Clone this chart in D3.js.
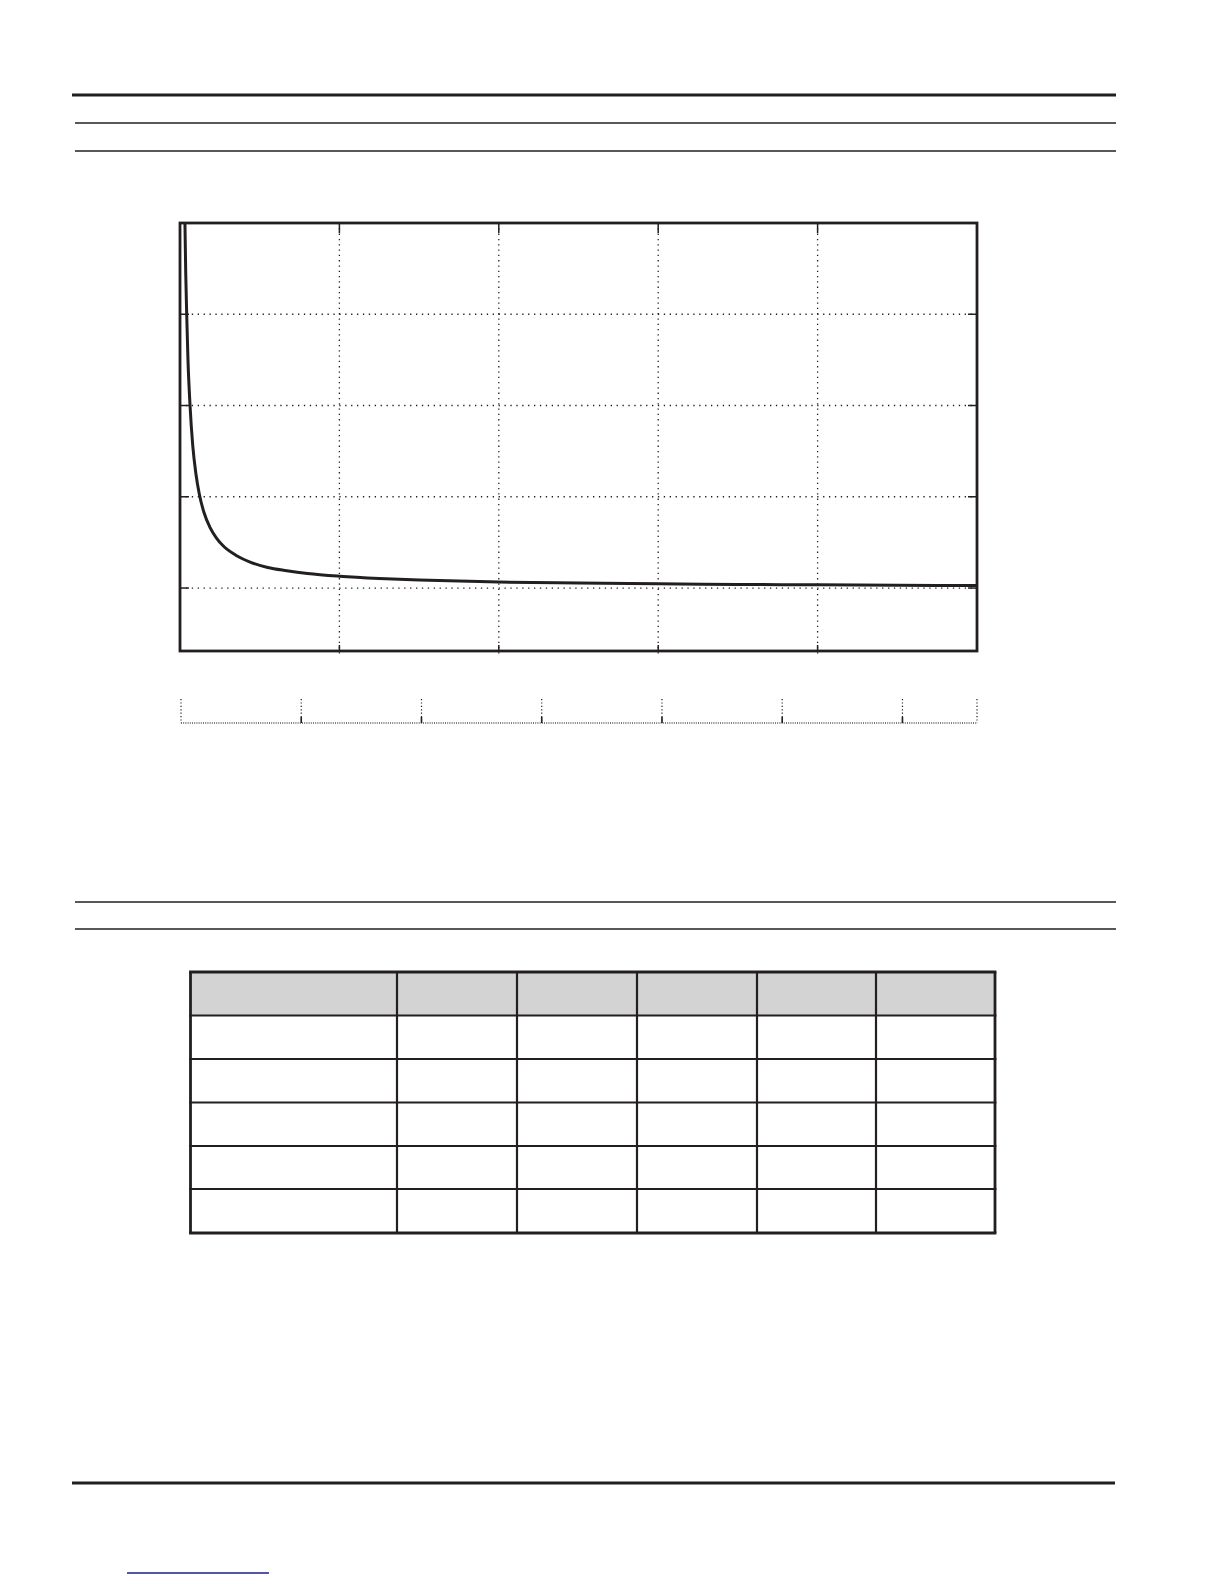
<!DOCTYPE html>
<html>
<head>
<meta charset="utf-8">
<script src="https://cdn.jsdelivr.net/npm/d3@7"></script>
<style>
  html, body { margin: 0; padding: 0; background: #ffffff; }
  svg { display: block; }
</style>
</head>
<body>
<script>
// ---- Data ----
const curveX = [0.031, 0.036, 0.042, 0.05, 0.063, 0.08, 0.1, 0.121, 0.15, 0.188, 0.23, 0.272, 0.35, 0.44, 0.55, 0.67, 0.8, 1.0, 1.25, 1.5, 2.0, 2.5, 3.0, 3.5, 4.0, 4.5, 5.0];
const curveY = [5.0, 4.45, 4.0, 3.5, 3.0, 2.56, 2.25, 2.03, 1.83, 1.665, 1.545, 1.46, 1.36, 1.285, 1.225, 1.19, 1.16, 1.13, 1.105, 1.088, 1.066, 1.054, 1.046, 1.04, 1.035, 1.031, 1.027];
const xDomain = [0, 5];
const yDomain = [0.31, 5];
const xGridTicks = [1, 2, 3, 4];
const yGridTicks = [1, 2, 3, 4];
const rulerDomain = [0, 6.62];
const rulerTicks = [0, 1, 2, 3, 4, 5, 6, 6.62];
const tableColumns = ["", "", "", "", "", ""];
const tableRows = [
  ["", "", "", "", "", ""],
  ["", "", "", "", "", ""],
  ["", "", "", "", "", ""],
  ["", "", "", "", "", ""],
  ["", "", "", "", "", ""]
];

// ---- Layout ----
const W = 1224, H = 1584;
const INK = "#231f20";
const svg = d3.select("body").append("svg").attr("width", W).attr("height", H);
svg.append("rect").attr("width", W).attr("height", H).attr("fill", "#fff");

// page rules
function rule(x1, x2, y, w) {
  svg.append("line").attr("x1", x1).attr("x2", x2).attr("y1", y).attr("y2", y)
    .attr("stroke", INK).attr("stroke-width", w);
}
rule(72, 1116, 95, 3);
rule(75, 1116, 123, 1.4);
rule(75, 1116, 151, 1.4);
rule(75, 1116, 902, 1.4);
rule(75, 1116, 929, 1.4);
rule(72, 1115, 1483, 3);
svg.append("line").attr("x1", 127).attr("x2", 269).attr("y1", 1573).attr("y2", 1573)
  .attr("stroke", "#1c1c8a").attr("stroke-width", 1.6);

// ---- Chart ----
const L = 180, R = 977, T = 223, B = 651;
const x = d3.scaleLinear().domain(xDomain).range([L, R]);
const y = d3.scaleLinear().domain(yDomain).range([B, T]);

const grid = svg.append("g");
grid.selectAll("line.v").data(xGridTicks).join("line")
  .attr("x1", d => x(d)).attr("x2", d => x(d)).attr("y1", T).attr("y2", B + 4)
  .attr("stroke", INK).attr("stroke-width", 1.3).attr("stroke-dasharray", "1.3,4");
grid.selectAll("line.h").data(yGridTicks).join("line")
  .attr("x1", L).attr("x2", R).attr("y1", d => y(d)).attr("y2", d => y(d))
  .attr("stroke", INK).attr("stroke-width", 1.3).attr("stroke-dasharray", "1.3,4.6");

// inner tick marks
const tk = svg.append("g").attr("stroke", INK).attr("stroke-width", 1.5);
xGridTicks.forEach(d => {
  tk.append("line").attr("x1", x(d)).attr("x2", x(d)).attr("y1", T).attr("y2", T + 10);
  tk.append("line").attr("x1", x(d)).attr("x2", x(d)).attr("y1", B).attr("y2", B - 6);
});
yGridTicks.forEach(d => {
  tk.append("line").attr("x1", L).attr("x2", L + 9).attr("y1", y(d)).attr("y2", y(d));
  tk.append("line").attr("x1", R).attr("x2", R - 9).attr("y1", y(d)).attr("y2", y(d));
});

// curve
svg.append("clipPath").attr("id", "clip").append("rect")
  .attr("x", L).attr("y", T).attr("width", R - L).attr("height", B - T);
const pts = curveX.map((v, i) => [v, curveY[i]]);
const line = d3.line().x(d => x(d[0])).y(d => y(d[1])).curve(d3.curveMonotoneX);
svg.append("path").attr("d", line(pts)).attr("clip-path", "url(#clip)")
  .attr("fill", "none").attr("stroke", INK).attr("stroke-width", 3);

// frame
svg.append("rect").attr("x", L).attr("y", T).attr("width", R - L).attr("height", B - T)
  .attr("fill", "none").attr("stroke", INK).attr("stroke-width", 2.8);

// ---- Ruler ----
const rx = d3.scaleLinear().domain(rulerDomain).range([181, 977]);
const RT = 699, RB = 723;
svg.append("line").attr("x1", rx(rulerDomain[0])).attr("x2", rx(rulerDomain[1]))
  .attr("y1", RB).attr("y2", RB).attr("stroke", "#555").attr("stroke-width", 1.3)
  .attr("stroke-dasharray", "1,1.2");
const rg = svg.append("g");
rg.selectAll("line.d").data(rulerTicks).join("line")
  .attr("x1", d => rx(d)).attr("x2", d => rx(d)).attr("y1", RT).attr("y2", RB)
  .attr("stroke", INK).attr("stroke-width", 1.2).attr("stroke-dasharray", "1.2,2.2");
rg.selectAll("line.s").data(rulerTicks.slice(1, -1)).join("line")
  .attr("x1", d => rx(d)).attr("x2", d => rx(d)).attr("y1", RB - 6).attr("y2", RB)
  .attr("stroke", INK).attr("stroke-width", 1.6);

// ---- Table ----
const colEdges = [190.5, 397, 517, 637, 757, 876, 995];
const rowEdges = [972, 1015.5, 1059, 1102.5, 1146, 1189, 1233];
const tbl = svg.append("g");
tbl.append("rect").attr("x", colEdges[0]).attr("y", rowEdges[0])
  .attr("width", colEdges[6] - colEdges[0]).attr("height", rowEdges[1] - rowEdges[0])
  .attr("fill", "#d3d3d3");
const allRows = [tableColumns].concat(tableRows);
allRows.forEach((row, ri) => {
  row.forEach((cell, ci) => {
    tbl.append("text").attr("x", (colEdges[ci] + colEdges[ci + 1]) / 2)
      .attr("y", (rowEdges[ri] + rowEdges[ri + 1]) / 2 + 5)
      .attr("text-anchor", "middle").attr("font-family", "Liberation Sans, Arial, sans-serif")
      .attr("font-size", 14).attr("fill", INK).text(cell);
  });
});
tbl.selectAll("line.c").data(colEdges).join("line")
  .attr("x1", d => d).attr("x2", d => d).attr("y1", rowEdges[0]).attr("y2", rowEdges[6])
  .attr("stroke", INK).attr("stroke-width", (d, i) => (i === 0 || i === 6) ? 2.8 : 2.2);
tbl.selectAll("line.r").data(rowEdges).join("line")
  .attr("x1", colEdges[0] - 1.4).attr("x2", colEdges[6] + 1.4).attr("y1", d => d).attr("y2", d => d)
  .attr("stroke", INK).attr("stroke-width", (d, i) => (i === 0 || i === 6) ? 2.8 : 2.2);
</script>
</body>
</html>
